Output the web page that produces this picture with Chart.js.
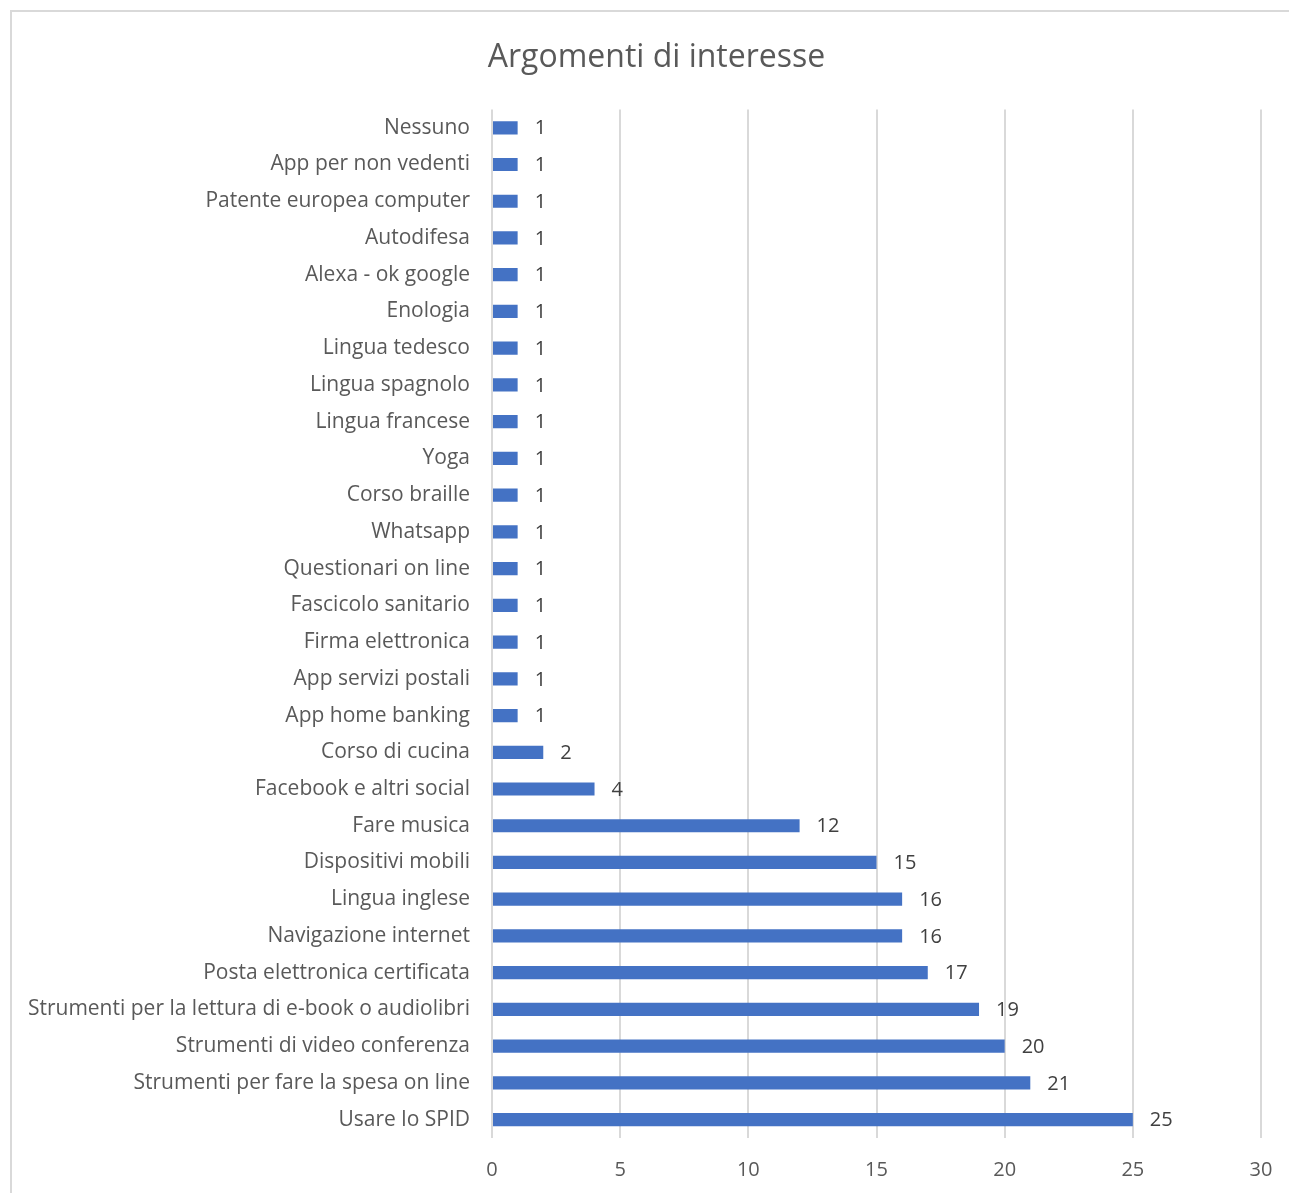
<!DOCTYPE html>
<html>
<head>
<meta charset="utf-8">
<script src="https://cdn.jsdelivr.net/npm/chart.js@4"></script>
<style>
html,body{margin:0;padding:0;background:#fff;}
#wrap{width:1289px;height:1193px;position:relative;}
</style>
</head>
<body>
<div id="wrap"><canvas id="c" width="1289" height="1193"></canvas></div>
<script>
const categories = [
  "Nessuno","App per non vedenti","Patente europea computer","Autodifesa","Alexa - ok google",
  "Enologia","Lingua tedesco","Lingua spagnolo","Lingua francese","Yoga","Corso braille",
  "Whatsapp","Questionari on line","Fascicolo sanitario","Firma elettronica","App servizi postali",
  "App home banking","Corso di cucina","Facebook e altri social","Fare musica","Dispositivi mobili",
  "Lingua inglese","Navigazione internet","Posta elettronica certificata",
  "Strumenti per la lettura di e-book o audiolibri","Strumenti di video conferenza",
  "Strumenti per fare la spesa on line","Usare lo SPID"
];
const values = [1,1,1,1,1,1,1,1,1,1,1,1,1,1,1,1,1,2,4,12,15,16,16,17,19,20,21,25];
const xTicks = [0,5,10,15,20,25,30];
const chartTitle = "Argomenti di interesse";

const FONT = "'Open Sans', 'Noto Sans', sans-serif";
const TXT = "#595959";

const borderPlugin = {
  id: 'frame',
  afterLayout(chart) {
    if (chart.titleBlock) {
      chart.titleBlock.left = 52;
    }
  },
  beforeDraw(chart) {
    const ctx = chart.ctx;
    ctx.save();
    ctx.fillStyle = '#fff';
    ctx.fillRect(0,0,chart.width,chart.height);
    ctx.strokeStyle = '#d9d9d9';
    ctx.lineWidth = 2;
    ctx.strokeRect(11, 11, chart.width + 20, chart.height + 20);
    ctx.restore();
  }
};
const labelPlugin = {
  id: 'vals',
  afterDatasetsDraw(chart) {
    const ctx = chart.ctx;
    const meta = chart.getDatasetMeta(0);
    ctx.save();
    ctx.font = "20px " + FONT;
    ctx.fillStyle = "#404040";
    ctx.textAlign = 'left';
    ctx.textBaseline = 'middle';
    meta.data.forEach((bar, i) => {
      ctx.fillText(String(values[i]), bar.x + 17, bar.y + 1);
    });
    ctx.restore();
  }
};

new Chart(document.getElementById('c'), {
  type: 'bar',
  data: {
    labels: categories,
    datasets: [{
      data: values,
      backgroundColor: '#4472C4',
      borderWidth: 0,
      barPercentage: 0.36,
      categoryPercentage: 1.0
    }]
  },
  options: {
    indexAxis: 'y',
    responsive: false,
    animation: false,
    devicePixelRatio: 1,
    layout: { padding: { left: 0, right: 28, top: 0, bottom: 0 } },
    plugins: {
      legend: { display: false },
      tooltip: { enabled: false },
      title: {
        display: true,
        text: chartTitle,
        color: TXT,
        font: { family: FONT, size: 32, weight: 'normal' },
        padding: { top: 39, bottom: 32 }
      }
    },
    scales: {
      x: {
        min: 0, max: 30,
        afterBuildTicks(scale) { scale.ticks = xTicks.map(v => ({ value: v })); },
        afterFit(scale) { scale.height = 55; scale.paddingRight = 0; scale.paddingLeft = 0; },
        grid: { color: '#d9d9d9', lineWidth: 2, drawTicks: false },
        border: { display: false },
        ticks: { color: TXT, font: { family: FONT, size: 20 }, padding: 20 }
      },
      y: {
        afterFit(scale) { scale.width = 492; scale.paddingTop = 0; scale.paddingBottom = 0; },
        grid: { display: false, drawTicks: false },
        border: { display: false },
        ticks: { color: TXT, font: { family: FONT, size: 21 }, padding: 22, autoSkip: false }
      }
    }
  },
  plugins: [borderPlugin, labelPlugin]
});
</script>
</body>
</html>
